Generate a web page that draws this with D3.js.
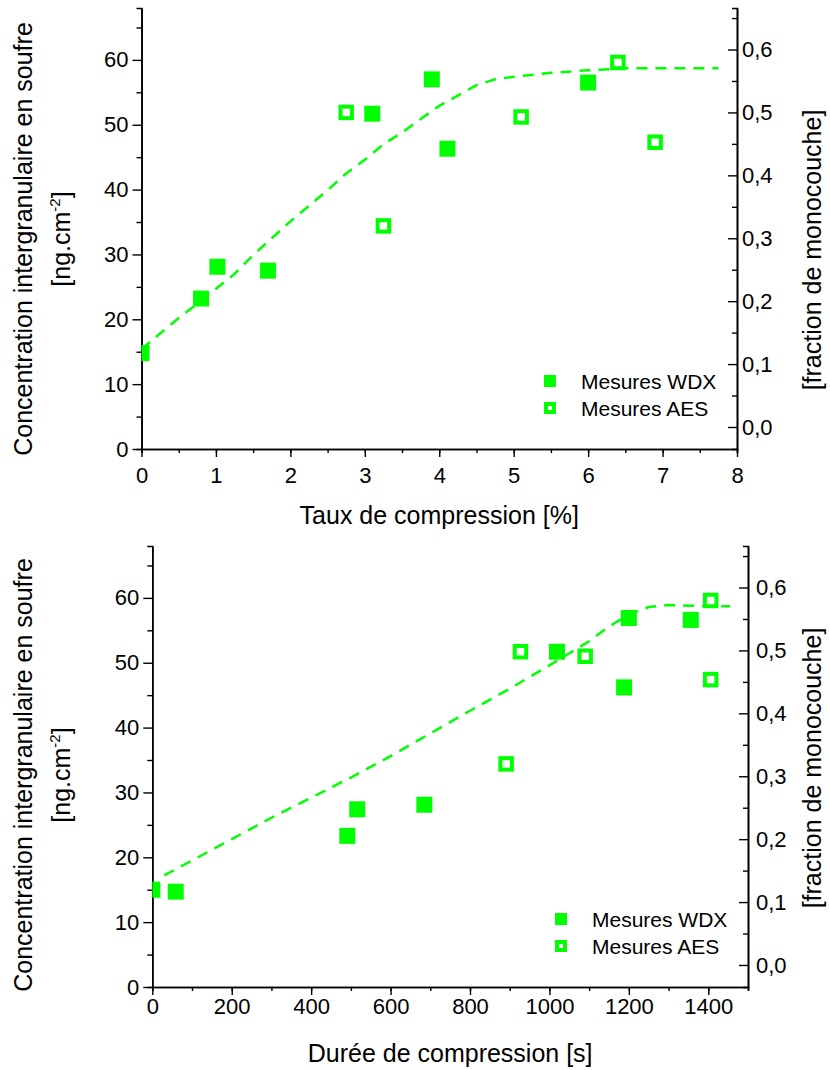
<!DOCTYPE html>
<html>
<head>
<meta charset="utf-8">
<script src="https://cdn.jsdelivr.net/npm/d3@7"></script>
<style>
    body { margin: 0; background: #fff; }
    text { font-family: "Liberation Sans", Arial, sans-serif; fill: #000; }
</style>
</head>
<body>
<div id="chart"></div>
<script>
// ---- data : taux de compression (top panel)
const tauxWDX = [[0, 14.8], [0.8, 23.2], [1.02, 28.1], [1.7, 27.5], [3.1, 51.7], [3.9, 57.0], [4.11, 46.3], [6.0, 56.5]];
const tauxAES = [[2.75, 51.9], [3.25, 34.4], [5.1, 51.2], [6.4, 59.6], [6.9, 47.3]];
const tauxFit = [[0, 15.4], [0.25, 17.8], [0.5, 20.2], [0.75, 22.4], [1.0, 24.7], [1.25, 27.0], [1.5, 29.9],
    [1.75, 32.5], [2.0, 35.1], [2.25, 37.5], [2.5, 39.9], [2.75, 42.5], [3.0, 44.6], [3.25, 47.0], [3.5, 48.8],
    [3.75, 50.9], [4.0, 52.9], [4.25, 54.5], [4.5, 56.1], [4.75, 57.0], [5.0, 57.4], [5.5, 58.0], [6.0, 58.4],
    [6.5, 58.7], [7.0, 58.7], [7.75, 58.7]];
const tauxTicks = [0, 1, 2, 3, 4, 5, 6, 7, 8];

// ---- data : durée de compression (bottom panel)
const dureeWDX = [[0, 15.0], [59, 14.7], [491, 23.3], [516, 27.4], [685, 28.1], [1019, 51.7], [1188, 46.2], [1200, 56.9], [1356, 56.6]];
const dureeAES = [[891, 34.4], [927, 51.7], [1090, 51.0], [1406, 59.6], [1406, 47.4]];
const dureeFit = [[30, 17.2], [100, 19.5], [200, 22.8], [300, 26.1], [400, 29.2], [500, 32.3], [600, 35.6],
    [700, 39.1], [800, 42.6], [900, 46.0], [1000, 49.6], [1100, 53.3], [1150, 55.6], [1200, 57.4], [1250, 58.6],
    [1300, 58.9], [1350, 58.8], [1400, 58.7], [1455, 58.7]];
const dureeTicks = [0, 200, 400, 600, 800, 1000, 1200, 1400];

// ---- shared axes
const concTicks = [0, 10, 20, 30, 40, 50, 60];
const fracTicks = [0, 0.1, 0.2, 0.3, 0.4, 0.5, 0.6];
const legendLabels = ["Mesures WDX", "Mesures AES"];

const GREEN = "#00ff00";
const frFormat = d3.formatLocale({decimal: ",", thousands: " ", grouping: [3], currency: ["", "€"]}).format(".1f");

class DualAxisPanel {
    constructor(svg, cfg) {
        this.svg = svg
        this.cfg = cfg
        this.initVis()
    }
    initVis() {
        let vis = this
        let c = vis.cfg

        vis.g = vis.svg.append("g")

        vis.x = d3.scaleLinear().domain(c.xDomain).range([c.left, c.right])
        vis.y = d3.scaleLinear().domain([0, 68]).range([c.bottom, c.top])
        vis.yFrac = d3.scaleLinear().domain([-0.035, 0.666]).range([c.bottom, c.top])

        // clip so the point at x=0 is cut by the axis
        vis.g.append("clipPath").attr("id", c.id + "-clip")
            .append("rect")
            .attr("x", c.left).attr("y", c.top)
            .attr("width", c.right - c.left).attr("height", c.bottom - c.top)

        vis.drawAxes()
        vis.drawData()
        vis.drawLegend()
    }
    styleAxis(sel) {
        sel.select(".domain").attr("stroke", "#000").attr("stroke-width", 1.6)
        sel.selectAll(".tick line").attr("stroke", "#000").attr("stroke-width", 1.4)
        sel.selectAll("text").attr("font-size", 22).attr("font-family", null).attr("fill", "#000")
    }
    drawAxes() {
        let vis = this
        let c = vis.cfg
        let minorX = d3.range(c.xDomain[0], c.xDomain[1] + 1e-9, c.xMinor)
        let minorY = d3.range(5, 68, 10)
        let minorF = d3.range(0.05, 0.666, 0.1)

        // minor ticks first
        vis.g.append("g").attr("transform", `translate(0,${c.bottom})`)
            .call(d3.axisBottom(vis.x).tickValues(minorX).tickSize(4).tickFormat(""))
            .call(s => vis.styleAxis(s))
        vis.g.append("g").attr("transform", `translate(${c.left},0)`)
            .call(d3.axisLeft(vis.y).tickValues(minorY).tickSize(5).tickFormat(""))
            .call(s => vis.styleAxis(s))
        vis.g.append("g").attr("transform", `translate(${c.right},0)`)
            .call(d3.axisRight(vis.yFrac).tickValues(minorF).tickSize(-5).tickFormat(""))
            .call(s => vis.styleAxis(s))

        // major ticks + labels
        vis.g.append("g").attr("transform", `translate(0,${c.bottom})`)
            .call(d3.axisBottom(vis.x).tickValues(c.xTicks).tickSize(8).tickSizeOuter(0).tickPadding(c.xPad).tickFormat(d3.format("d")))
            .call(s => vis.styleAxis(s))
        vis.g.append("g").attr("transform", `translate(${c.left},0)`)
            .call(d3.axisLeft(vis.y).tickValues(concTicks).tickSize(9).tickSizeOuter(0).tickPadding(4))
            .call(s => vis.styleAxis(s))
        vis.g.append("g").attr("transform", `translate(${c.right},0)`)
            .call(d3.axisRight(vis.yFrac).tickValues(fracTicks).tickSize(-9).tickSizeOuter(0).tickPadding(c.rPad).tickFormat(frFormat))
            .call(s => vis.styleAxis(s))

        // axis titles
        vis.g.append("text")
            .attr("x", (c.left + c.right) / 2)
            .attr("y", c.bottom + 75)
            .attr("text-anchor", "middle")
            .attr("font-size", 25)
            .text(c.xTitle)

        let cy = c.titleY
        vis.g.append("text")
            .attr("transform", `translate(32,${cy}) rotate(-90)`)
            .attr("text-anchor", "middle")
            .attr("font-size", 25)
            .text("Concentration intergranulaire en soufre")

        let unit = vis.g.append("text")
            .attr("transform", `translate(70,${cy}) rotate(-90)`)
            .attr("text-anchor", "middle")
            .attr("font-size", 25)
        unit.append("tspan").text("[ng.cm")
        unit.append("tspan").attr("dy", -10).attr("font-size", 15).text("-2")
        unit.append("tspan").attr("dy", 10).text("]")

        vis.g.append("text")
            .attr("transform", `translate(821,${c.rTitleY}) rotate(-90)`)
            .attr("text-anchor", "middle")
            .attr("font-size", 25)
            .text("[fraction de monocouche]")
    }
    drawData() {
        let vis = this
        let c = vis.cfg
        let plot = vis.g.append("g").attr("clip-path", `url(#${c.id}-clip)`)

        let line = d3.line()
            .x(d => vis.x(d[0]))
            .y(d => vis.y(d[1]))

        plot.append("path")
            .datum(c.fit)
            .attr("d", line)
            .attr("fill", "none")
            .attr("stroke", GREEN)
            .attr("stroke-width", 2.5)
            .attr("stroke-dasharray", "11,8")

        let s = 16
        plot.selectAll(".wdx")
            .data(c.wdx)
            .join("rect")
            .attr("class", "wdx")
            .attr("x", d => vis.x(d[0]) - s / 2)
            .attr("y", d => vis.y(d[1]) - s / 2)
            .attr("width", s)
            .attr("height", s)
            .attr("fill", GREEN)

        let h = 11.5
        plot.selectAll(".aes")
            .data(c.aes)
            .join("rect")
            .attr("class", "aes")
            .attr("x", d => vis.x(d[0]) - h / 2)
            .attr("y", d => vis.y(d[1]) - h / 2)
            .attr("width", h)
            .attr("height", h)
            .attr("fill", "#fff")
            .attr("stroke", GREEN)
            .attr("stroke-width", 4)
    }
    drawLegend() {
        let vis = this
        let c = vis.cfg
        let lg = vis.g.append("g").attr("transform", `translate(${c.legend[0]},${c.legend[1]})`)
        let rowH = 27

        legendLabels.forEach((lab, i) => {
            let row = lg.append("g").attr("transform", `translate(0,${i * rowH})`)
            if (i === 0) {
                row.append("rect").attr("x", -6).attr("y", -6).attr("width", 12).attr("height", 12).attr("fill", GREEN)
            } else {
                row.append("rect").attr("x", -4).attr("y", -4).attr("width", 8).attr("height", 8)
                    .attr("fill", "#fff").attr("stroke", GREEN).attr("stroke-width", 4)
            }
            row.append("text")
                .attr("x", c.legendText)
                .attr("dy", "0.36em")
                .attr("font-size", 21)
                .text(lab)
        })
    }
}

const svg = d3.select("#chart").append("svg")
    .attr("width", 830)
    .attr("height", 1070)

svg.append("rect").attr("width", 830).attr("height", 1070).attr("fill", "#fff")

new DualAxisPanel(svg, {
    id: "taux",
    left: 141.5, right: 737, top: 8, bottom: 449,
    xDomain: [0, 8], xTicks: tauxTicks, xMinor: 0.5, xPad: 10, rPad: 5,
    xTitle: "Taux de compression [%]",
    titleY: 239, rTitleY: 250,
    wdx: tauxWDX, aes: tauxAES, fit: tauxFit,
    legend: [550, 381], legendText: 31
})

new DualAxisPanel(svg, {
    id: "duree",
    left: 152.3, right: 748, top: 546, bottom: 987,
    xDomain: [0, 1500], xTicks: dureeTicks, xMinor: 100, xPad: 3, rPad: 8,
    xTitle: "Durée de compression [s]",
    titleY: 775, rTitleY: 768,
    wdx: dureeWDX, aes: dureeAES, fit: dureeFit,
    legend: [561, 919], legendText: 31
})
</script>
</body>
</html>
